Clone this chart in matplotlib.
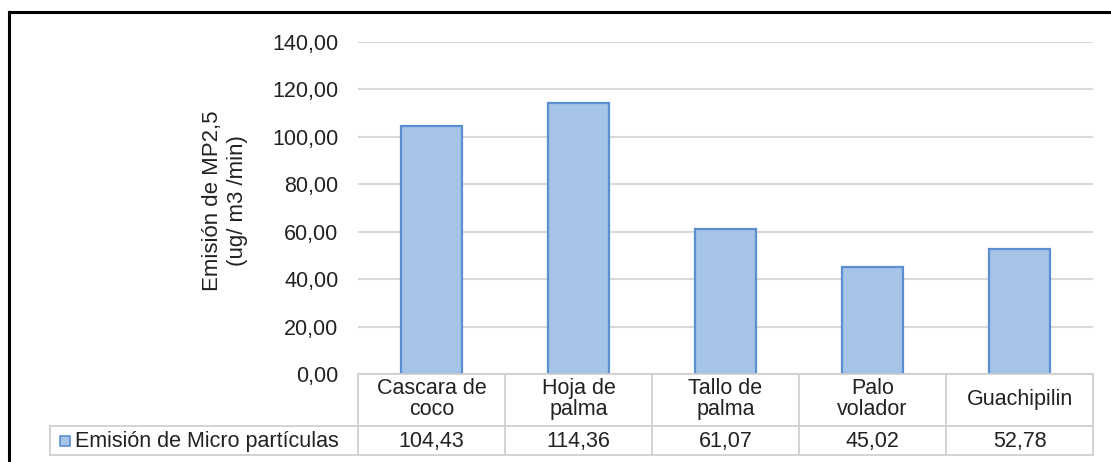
import matplotlib
matplotlib.use("Agg")
import matplotlib.pyplot as plt
from matplotlib.patches import Rectangle
from matplotlib.lines import Line2D
import matplotlib.transforms as mtransforms

categories = ["Cascara de\ncoco", "Hoja de\npalma", "Tallo de\npalma", "Palo\nvolador", "Guachipilin"]
values = [104.43, 114.36, 61.07, 45.02, 52.78]
value_labels = ["104,43", "114,36", "61,07", "45,02", "52,78"]
yticks = [0, 20, 40, 60, 80, 100, 120, 140]
ytick_labels = ["0,00", "20,00", "40,00", "60,00", "80,00", "100,00", "120,00", "140,00"]
series_name = "Emisión de Micro partículas"
ylabel = "Emisión de MP2,5\n(ug/ m3 /min)"

plt.rcParams['font.family'] = ['Liberation Sans', 'DejaVu Sans']

W, H = 1111, 462
fig = plt.figure(figsize=(W / 100, H / 100), dpi=100)

def fx(px):
    return px / W

def fy(py):
    return 1 - py / H

ax_l, ax_r, ax_t, ax_b = 358, 1093, 42, 374
ax = fig.add_axes([fx(ax_l), fy(ax_b), fx(ax_r) - fx(ax_l), fy(ax_t) - fy(ax_b)])

bar_color = "#a6c3e8"
edge_color = "#5b8fd2"
x = list(range(len(values)))
ax.bar(x, values, width=0.41, color=bar_color, edgecolor=edge_color, linewidth=1.6, zorder=3)
ax.set_xlim(-0.5, len(values) - 0.5)
ax.set_ylim(0, 140)
ax.set_yticks(yticks)
ax.set_yticklabels(ytick_labels, fontsize=15.5, color="#222222")
ax.tick_params(axis='y', length=0, pad=14)
ax.set_xticks([])
for s in ax.spines.values():
    s.set_visible(False)
ax.yaxis.grid(True, color="#d9d9d9", linewidth=1.5, zorder=0)
ax.set_axisbelow(True)

fig.text(fx(225), fy(201), ylabel, rotation=90, ha='center', va='center',
         fontsize=16, color="#222222", linespacing=1.3)

# data table below the axes
grid_c = "#d0d0d0"
lw = 1.3
trans = mtransforms.blended_transform_factory(ax.transData, fig.transFigure)
y_top, y_mid, y_bot = fy(374), fy(426), fy(455)
xmin, xmax = -0.5, len(values) - 0.5

def hline(y, x0, x1, tr):
    fig.add_artist(Line2D([x0, x1], [y, y], transform=tr, color=grid_c, lw=lw))

def vline(xv, y0, y1, tr):
    fig.add_artist(Line2D([xv, xv], [y0, y1], transform=tr, color=grid_c, lw=lw))

hline(y_top, xmin, xmax, trans)
hline(y_mid, fx(50), fx(ax_l), fig.transFigure)
hline(y_bot, fx(50), fx(ax_l), fig.transFigure)
hline(y_mid, xmin, xmax, trans)
hline(y_bot, xmin, xmax, trans)
vline(fx(50), y_mid, y_bot, fig.transFigure)
for i in range(len(values) + 1):
    vline(i - 0.5, y_bot, y_top, trans)

for i, (c, v) in enumerate(zip(categories, value_labels)):
    fig.text(i, fy(399), c, transform=trans, ha='center', va='center',
             fontsize=15.5, color="#222222", linespacing=1.0)
    fig.text(i, fy(441.5), v, transform=trans, ha='center', va='center',
             fontsize=15.5, color="#222222")

fig.add_artist(Rectangle((fx(60), fy(446)), fx(10), fy(436) - fy(446), transform=fig.transFigure,
                         facecolor=bar_color, edgecolor=edge_color, lw=1.2))
fig.text(fx(75), fy(441.5), series_name, ha='left', va='center', fontsize=15.5, color="#222222")

# outer frame (left and top edges visible)
fig.add_artist(Line2D([fx(9), fx(9)], [0, fy(12)], transform=fig.transFigure, color="black", lw=2.2))
fig.add_artist(Line2D([fx(9), 1], [fy(12), fy(12)], transform=fig.transFigure, color="black", lw=2.2))

fig.savefig("out.png", dpi=100, facecolor="white")
